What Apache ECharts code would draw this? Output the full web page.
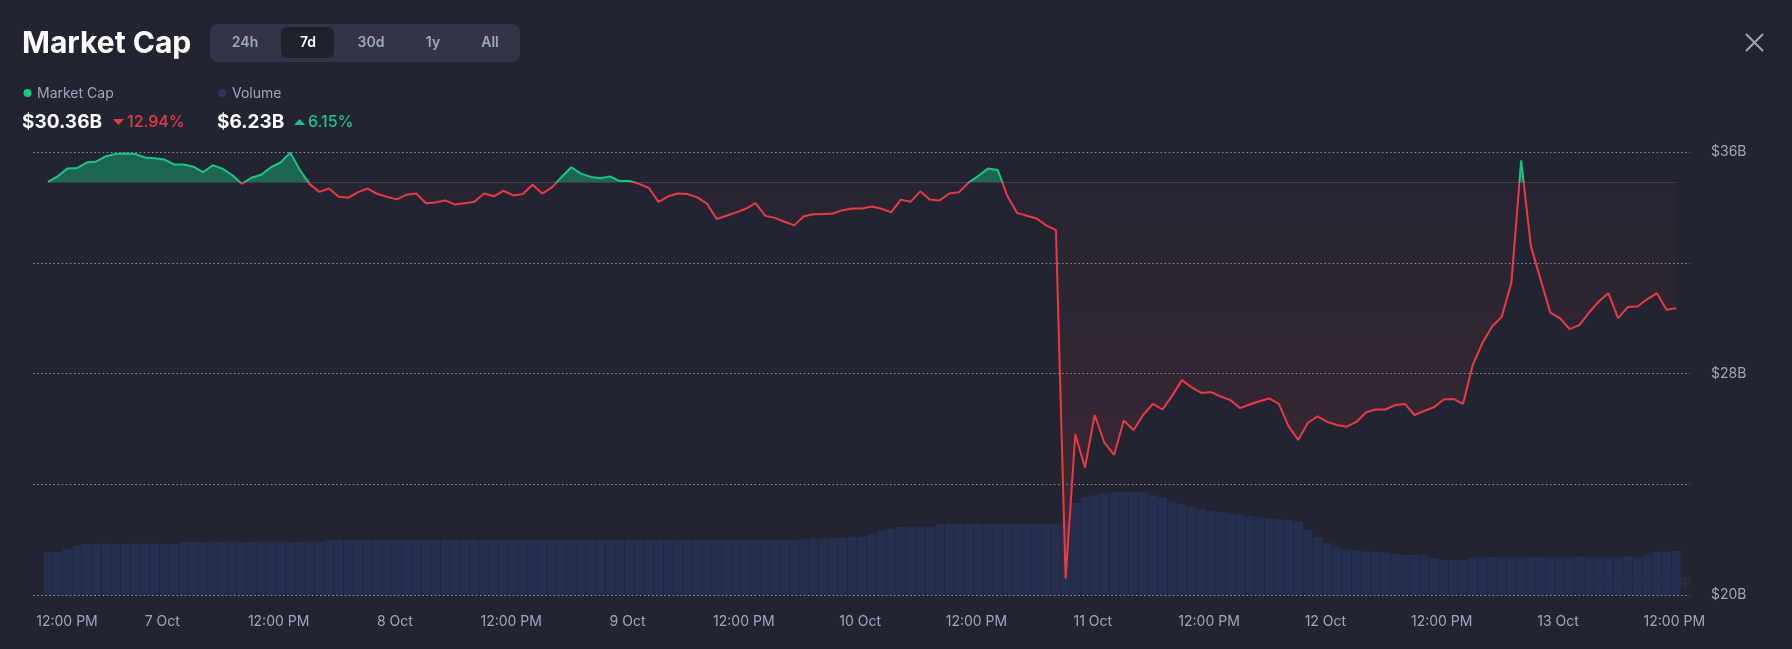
<!DOCTYPE html>
<html>
<head>
<meta charset="utf-8">
<title>Market Cap</title>
<script src="https://cdn.jsdelivr.net/npm/echarts@6.0.0/dist/echarts.min.js"></script>
<style>
  html, body { margin: 0; padding: 0; background: #222531; }
  #chart { width: 1792px; height: 649px; }
</style>
</head>
<body>
<div id="chart"></div>
<script>
// hourly samples, hours counted from 6 Oct 00:00
const startHour = 12.2;

// market cap, $B
const marketCap = [
  34.92, 35.12, 35.40, 35.42, 35.62, 35.66, 35.85, 35.93, 35.95, 35.93,
  35.80, 35.77, 35.73, 35.55, 35.55, 35.47, 35.27, 35.52, 35.40, 35.17,
  34.85, 35.07, 35.18, 35.45, 35.62, 35.97, 35.35, 34.84, 34.56, 34.68,
  34.38, 34.35, 34.55, 34.68, 34.48, 34.38, 34.29, 34.46, 34.50, 34.15,
  34.18, 34.25, 34.10, 34.15, 34.20, 34.50, 34.40, 34.60, 34.43, 34.48,
  34.82, 34.50, 34.72, 35.10, 35.45, 35.22, 35.10, 35.05, 35.12, 34.95,
  34.95, 34.85, 34.70, 34.20, 34.40, 34.50, 34.48, 34.36, 34.13, 33.58,
  33.70, 33.82, 33.95, 34.15, 33.70, 33.62, 33.48, 33.35, 33.68, 33.75,
  33.76, 33.78, 33.90, 33.96, 33.96, 34.03, 33.95, 33.82, 34.28, 34.20,
  34.58, 34.28, 34.25, 34.50, 34.55, 34.90, 35.14, 35.40, 35.35, 34.40,
  33.80, 33.70, 33.60, 33.35, 33.18, 20.60, 25.80, 24.60, 26.50, 25.50,
  25.06, 26.30, 25.96, 26.50, 26.90, 26.70, 27.20, 27.76, 27.50, 27.30,
  27.33, 27.17, 27.04, 26.75, 26.88, 27.00, 27.10, 26.90, 26.10, 25.60,
  26.22, 26.45, 26.25, 26.14, 26.08, 26.25, 26.60, 26.70, 26.70, 26.86,
  26.90, 26.50, 26.65, 26.78, 27.06, 27.08, 26.90, 28.30, 29.10, 29.70,
  30.05, 31.30, 35.70, 32.60, 31.40, 30.20, 30.00, 29.60, 29.75, 30.20,
  30.60, 30.90, 30.00, 30.40, 30.42, 30.68, 30.90, 30.30, 30.36
];

// 24h volume, $B
const volume = [
  6.11, 6.11, 6.58, 6.97, 7.25, 7.22, 7.28, 7.25, 7.20, 7.27,
  7.25, 7.30, 7.24, 7.26, 7.52, 7.55, 7.50, 7.56, 7.54, 7.58,
  7.52, 7.55, 7.60, 7.54, 7.57, 7.52, 7.55, 7.58, 7.60, 7.82,
  7.80, 7.84, 7.82, 7.78, 7.85, 7.82, 7.80, 7.83, 7.86, 7.82,
  7.80, 7.84, 7.82, 7.79, 7.85, 7.82, 7.80, 7.83, 7.78, 7.82,
  7.85, 7.82, 7.80, 7.84, 7.82, 7.79, 7.83, 7.86, 7.82, 7.80,
  7.84, 7.82, 7.80, 7.85, 7.82, 7.79, 7.83, 7.82, 7.80, 7.84,
  7.82, 7.86, 7.83, 7.80, 7.84, 7.82, 7.85, 7.90, 7.95, 8.00,
  8.05, 8.10, 8.15, 8.20, 8.25, 8.70, 9.10, 9.40, 9.67, 9.65,
  9.68, 9.70, 10.05, 10.10, 10.08, 10.12, 10.10, 10.08, 10.12, 10.10,
  10.10, 10.08, 10.12, 10.10, 10.10, 10.50, 13.10, 13.90, 14.20, 14.50,
  14.65, 14.65, 14.62, 14.60, 14.20, 13.80, 13.30, 12.90, 12.60, 12.30,
  12.00, 11.80, 11.55, 11.40, 11.20, 11.05, 10.90, 10.80, 10.65, 10.40,
  9.25, 8.25, 7.40, 6.83, 6.60, 6.33, 6.19, 6.11, 6.04, 5.83,
  5.69, 5.69, 5.62, 5.26, 4.98, 4.98, 4.98, 5.26, 5.45, 5.42,
  5.46, 5.44, 5.45, 5.47, 5.43, 5.45, 5.46, 5.44, 5.45, 5.42,
  5.46, 5.45, 5.44, 5.47, 5.45, 5.69, 6.11, 6.19, 6.26
];

// opening value of the period: green above, red below
const baseValue = 34.92;

const xTickHours = [12, 24, 36, 48, 60, 72, 84, 96, 108, 120, 132, 144, 156, 168, 180];
const xTickLabels = ['12:00 PM', '7 Oct', '12:00 PM', '8 Oct', '12:00 PM', '9 Oct', '12:00 PM',
  '10 Oct', '12:00 PM', '11 Oct', '12:00 PM', '12 Oct', '12:00 PM', '13 Oct', '12:00 PM'];
const yLabelValues = [36, 28, 20];

const GREEN = '#16c784';
const RED = '#ea3943';
const GREY = '#a1a7bb';
const FONT = 'Inter';

const hours = marketCap.map((_, i) => startHour + i);
const capSeries = hours.map((h, i) => [h, marketCap[i]]);
const volSeries = hours.map((h, i) => [h, volume[i]]);

const chart = echarts.init(document.getElementById('chart'));

const header = [
  { type: 'text', style: { x: 22, y: 44, text: 'Market Cap', font: 'bold 30px Inter', fill: '#ffffff', verticalAlign: 'middle' } },
  { type: 'rect', shape: { x: 210, y: 24, width: 310, height: 38, r: 8 }, style: { fill: '#323546' } },
  { type: 'rect', shape: { x: 281, y: 27, width: 53, height: 31, r: 6 }, style: { fill: '#1f222d' } },
  ...[['24h', 245], ['7d', 308], ['30d', 371], ['1y', 433], ['All', 490]].map(([t, x]) => ({
    type: 'text',
    style: { x: x, y: 43, text: t, font: '600 14px Inter', fill: t === '7d' ? '#ffffff' : GREY, align: 'center', verticalAlign: 'middle' }
  })),
  // close
  { type: 'line', shape: { x1: 1746, y1: 34, x2: 1763, y2: 51 }, style: { stroke: GREY, lineWidth: 2 } },
  { type: 'line', shape: { x1: 1763, y1: 34, x2: 1746, y2: 51 }, style: { stroke: GREY, lineWidth: 2 } },
  // legend
  { type: 'circle', shape: { cx: 27.5, cy: 93, r: 4 }, style: { fill: GREEN } },
  { type: 'text', style: { x: 37, y: 94, text: 'Market Cap', font: '14px Inter', fill: GREY, verticalAlign: 'middle' } },
  { type: 'circle', shape: { cx: 222, cy: 93, r: 4 }, style: { fill: '#2e3560' } },
  { type: 'text', style: { x: 232, y: 94, text: 'Volume', font: '14px Inter', fill: GREY, verticalAlign: 'middle' } },
  // values
  { type: 'text', style: { x: 22, y: 122, text: '$30.36B', font: 'bold 19px Inter', fill: '#ffffff', verticalAlign: 'middle' } },
  { type: 'polygon', shape: { points: [[113, 119], [124, 119], [118.5, 125]] }, style: { fill: RED } },
  { type: 'text', style: { x: 127, y: 122, text: '12.94%', font: '500 16px Inter', fill: RED, verticalAlign: 'middle' } },
  { type: 'text', style: { x: 217, y: 122, text: '$6.23B', font: 'bold 19px Inter', fill: '#ffffff', verticalAlign: 'middle' } },
  { type: 'polygon', shape: { points: [[294, 125], [305, 125], [299.5, 119]] }, style: { fill: GREEN } },
  { type: 'text', style: { x: 308, y: 122, text: '6.15%', font: '500 16px Inter', fill: GREEN, verticalAlign: 'middle' } },
  // faint watermark
  { type: 'text', style: { x: 1592, y: 581, text: 'CoinMarketCap', font: 'bold 13px Inter', fill: 'rgba(160,167,187,0.08)', verticalAlign: 'middle' } }
];

chart.setOption({
  backgroundColor: '#222531',
  animation: false,
  textStyle: { fontFamily: FONT },
  grid: { left: 33, right: 102, top: 152, bottom: 54 },
  graphic: header,
  visualMap: {
    show: false,
    type: 'piecewise',
    seriesIndex: 1,
    dimension: 1,
    pieces: [
      { gt: baseValue, lte: 60, color: GREEN },
      { gte: 0, lte: baseValue, color: RED }
    ],
    outOfRange: { color: RED }
  },
  xAxis: {
    type: 'value',
    min: 10.66,
    max: 181.62,
    axisLine: { show: false },
    axisTick: { show: false },
    splitLine: { show: false },
    axisLabel: {
      customValues: xTickHours,
      color: GREY,
      fontSize: 14,
      fontFamily: FONT,
      margin: 20,
      formatter: (v) => {
        const label = xTickLabels[xTickHours.indexOf(v)] || '';
        // first label is pushed right so it starts at the plot edge
        return v === xTickHours[0] ? '{first|' + label + '}' : label;
      },
      rich: {
        first: { padding: [0, 0, 0, 42], color: GREY, fontSize: 14, fontFamily: FONT }
      }
    }
  },
  yAxis: [
    {
      type: 'value',
      position: 'right',
      min: 20,
      max: 36,
      interval: 4,
      axisLine: { show: false },
      axisTick: { show: false },
      splitLine: {
        lineStyle: { color: 'rgba(225,228,236,0.6)', type: [1.5, 2.6], width: 1.2 }
      },
      axisLabel: {
        color: GREY,
        fontSize: 14,
        fontFamily: FONT,
        margin: 21,
        formatter: (v) => (yLabelValues.includes(v) ? '$' + v + 'B' : '')
      }
    },
    {
      type: 'value',
      min: 0,
      max: 63,
      show: false,
      splitLine: { show: false }
    }
  ],
  series: [
    {
      name: 'Volume',
      type: 'bar',
      yAxisIndex: 1,
      data: volSeries,
      barWidth: 9,
      silent: true,
      itemStyle: { color: '#272f50' }
    },
    {
      name: 'Market Cap',
      type: 'line',
      data: capSeries,
      showSymbol: false,
      silent: true,
      lineStyle: { width: 2 },
      areaStyle: {
        origin: baseValue,
        opacity: 1,
        color: {
          type: 'linear', x: 0, y: 152, x2: 0, y2: 595, global: true,
          colorStops: [
            { offset: 0, color: 'rgba(22,199,132,0.4)' },
            { offset: 0.068, color: 'rgba(22,199,132,0.4)' },
            { offset: 0.0681, color: 'rgba(234,57,67,0.02)' },
            { offset: 0.85, color: 'rgba(234,57,67,0.12)' },
            { offset: 1, color: 'rgba(234,57,67,0.12)' }
          ]
        }
      },
      markLine: {
        silent: true,
        symbol: 'none',
        label: { show: false },
        lineStyle: { color: 'rgba(255,255,255,0.12)', type: 'solid', width: 1 },
        data: [[{ coord: [hours[0], baseValue] }, { coord: [hours[hours.length - 1], baseValue] }]]
      },
      z: 3
    }
  ]
});
</script>
</body>
</html>
